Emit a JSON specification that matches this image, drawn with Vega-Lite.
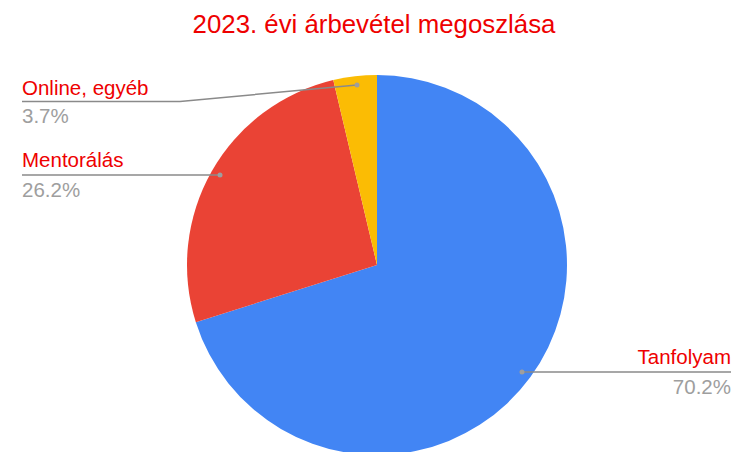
{
  "$schema": "https://vega.github.io/schema/vega-lite/v6.json",
  "width": 714,
  "height": 374,
  "autosize": {"type": "none"},
  "padding": {"left": 20, "top": 78, "right": 0, "bottom": 0},
  "background": "white",
  "title": {
    "text": "2023. évi árbevétel megoszlása",
    "font": "Liberation Sans",
    "fontSize": 25.8,
    "fontWeight": "normal",
    "color": "#ee0000",
    "anchor": "middle",
    "dx": -3,
    "offset": 36
  },
  "config": {"view": {"stroke": null}, "font": "Liberation Sans"},
  "datasets": {
    "slices": [
      {"category": "Tanfolyam", "share": 70.2, "rank": 1},
      {"category": "Mentorálás", "share": 26.2, "rank": 2},
      {"category": "Online, egyéb", "share": 3.7, "rank": 3}
    ],
    "leaders": [
      {"category": "Online, egyéb", "seq": 1, "x": -355, "y": 163.5},
      {"category": "Online, egyéb", "seq": 2, "x": -197, "y": 163.5},
      {"category": "Online, egyéb", "seq": 3, "x": -20, "y": 180},
      {"category": "Mentorálás", "seq": 1, "x": -355, "y": 90},
      {"category": "Mentorálás", "seq": 2, "x": -157, "y": 90},
      {"category": "Tanfolyam", "seq": 1, "x": 145, "y": -107},
      {"category": "Tanfolyam", "seq": 2, "x": 354, "y": -107}
    ],
    "dots": [
      {"category": "Online, egyéb", "x": -20, "y": 180},
      {"category": "Mentorálás", "x": -157, "y": 90},
      {"category": "Tanfolyam", "x": 145, "y": -107}
    ],
    "labels": [
      {"category": "Online, egyéb", "pct": "3.7%", "side": "left", "x": -355, "nameY": 170, "pctY": 142},
      {"category": "Mentorálás", "pct": "26.2%", "side": "left", "x": -355, "nameY": 98, "pctY": 68},
      {"category": "Tanfolyam", "pct": "70.2%", "side": "right", "x": 354, "nameY": -99, "pctY": -129}
    ]
  },
  "layer": [
    {
      "data": {"name": "slices"},
      "mark": {"type": "arc", "outerRadius": 190},
      "encoding": {
        "theta": {"field": "share", "type": "quantitative", "stack": true},
        "order": {"field": "rank", "type": "quantitative"},
        "color": {
          "field": "category",
          "type": "nominal",
          "legend": null,
          "scale": {
            "domain": ["Tanfolyam", "Mentorálás", "Online, egyéb"],
            "range": ["#4285F4", "#EA4335", "#FBBC04"]
          }
        }
      }
    },
    {
      "data": {"name": "leaders"},
      "mark": {"type": "line", "color": "#8a8a8a", "strokeWidth": 1.5},
      "encoding": {
        "x": {"field": "x", "type": "quantitative", "axis": null, "scale": {"domain": [-357, 357], "nice": false, "zero": false}},
        "y": {"field": "y", "type": "quantitative", "axis": null, "scale": {"domain": [-187, 187], "nice": false, "zero": false}},
        "detail": {"field": "category"},
        "order": {"field": "seq", "type": "quantitative"}
      }
    },
    {
      "data": {"name": "dots"},
      "mark": {"type": "point", "filled": true, "color": "#9e9e9e", "size": 25, "opacity": 1},
      "encoding": {
        "x": {"field": "x", "type": "quantitative", "axis": null, "scale": {"domain": [-357, 357], "nice": false, "zero": false}},
        "y": {"field": "y", "type": "quantitative", "axis": null, "scale": {"domain": [-187, 187], "nice": false, "zero": false}}
      }
    },
    {
      "data": {"name": "labels"},
      "transform": [{"filter": "datum.side === 'left'"}],
      "mark": {"type": "text", "align": "left", "baseline": "alphabetic", "fontSize": 20.5, "color": "#ee0000"},
      "encoding": {
        "x": {"field": "x", "type": "quantitative", "axis": null, "scale": {"domain": [-357, 357], "nice": false, "zero": false}},
        "y": {"field": "nameY", "type": "quantitative", "axis": null, "scale": {"domain": [-187, 187], "nice": false, "zero": false}},
        "text": {"field": "category"}
      }
    },
    {
      "data": {"name": "labels"},
      "transform": [{"filter": "datum.side === 'left'"}],
      "mark": {"type": "text", "align": "left", "baseline": "alphabetic", "fontSize": 20.5, "color": "#9e9e9e"},
      "encoding": {
        "x": {"field": "x", "type": "quantitative", "axis": null, "scale": {"domain": [-357, 357], "nice": false, "zero": false}},
        "y": {"field": "pctY", "type": "quantitative", "axis": null, "scale": {"domain": [-187, 187], "nice": false, "zero": false}},
        "text": {"field": "pct"}
      }
    },
    {
      "data": {"name": "labels"},
      "transform": [{"filter": "datum.side === 'right'"}],
      "mark": {"type": "text", "align": "right", "baseline": "alphabetic", "fontSize": 20.5, "color": "#ee0000"},
      "encoding": {
        "x": {"field": "x", "type": "quantitative", "axis": null, "scale": {"domain": [-357, 357], "nice": false, "zero": false}},
        "y": {"field": "nameY", "type": "quantitative", "axis": null, "scale": {"domain": [-187, 187], "nice": false, "zero": false}},
        "text": {"field": "category"}
      }
    },
    {
      "data": {"name": "labels"},
      "transform": [{"filter": "datum.side === 'right'"}],
      "mark": {"type": "text", "align": "right", "baseline": "alphabetic", "fontSize": 20.5, "color": "#9e9e9e"},
      "encoding": {
        "x": {"field": "x", "type": "quantitative", "axis": null, "scale": {"domain": [-357, 357], "nice": false, "zero": false}},
        "y": {"field": "pctY", "type": "quantitative", "axis": null, "scale": {"domain": [-187, 187], "nice": false, "zero": false}},
        "text": {"field": "pct"}
      }
    }
  ]
}
